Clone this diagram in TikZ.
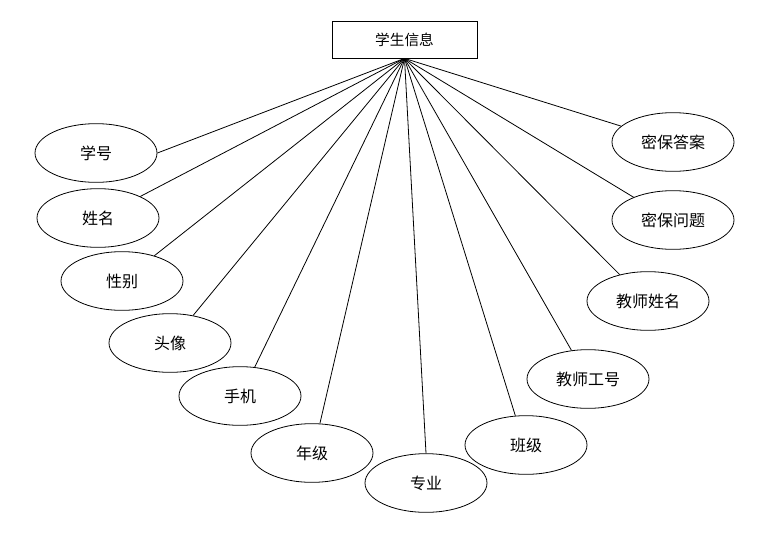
\documentclass[tikz,border=0pt]{standalone}
\usepackage{fontspec}
\setmainfont{Noto Sans CJK SC}
\usetikzlibrary{shapes.geometric}

\begin{document}
\begin{tikzpicture}[
  x=0.75pt, y=-0.75pt,
  ent/.style={draw, line width=0.6pt, minimum width=108.75pt, minimum height=27.75pt,
              inner sep=0pt, font=\fontsize{11}{13}\selectfont},
  attr/.style={draw, ellipse, line width=0.6pt, minimum width=91.5pt, minimum height=44pt,
               inner sep=0pt, font=\fontsize{12}{14}\selectfont},
  conn/.style={line width=0.6pt}
]
\useasboundingbox (0,0) rectangle (772,536);

\node[ent] (info) at (404.5,39.5) {学生信息};

% left side
\node[attr] (xh)   at (96,153)  {学号};
\node[attr] (xm)   at (98,218)  {姓名};
\node[attr] (xb)   at (122,281) {性别};
\node[attr] (tx)   at (170,343) {头像};
\node[attr] (sj)   at (240,396) {手机};
\node[attr] (nj)   at (312,453) {年级};
\node[attr] (zy)   at (426,483) {专业};
% right side
\node[attr] (bj)   at (526,445) {班级};
\node[attr] (jsgh) at (588,379) {教师工号};
\node[attr] (jsxm) at (648,301) {教师姓名};
\node[attr] (mbwt) at (673,220) {密保问题};
\node[attr] (mbda) at (673,142) {密保答案};

\draw[conn] (info.south) -- (xh.east);
\draw[conn] (info.south) -- (xm.27);
\draw[conn] (info.south) -- (xb.38);
\draw[conn] (info.south) -- (tx.50);
\draw[conn] (info.south) -- (sj.63);
\draw[conn] (info.south) -- (nj.75);
\draw[conn] (info.south) -- (zy.north);
\draw[conn] (info.south) -- (bj.110);
\draw[conn] (info.south) -- (jsgh.120);
\draw[conn] (info.south) -- (jsxm.137);
\draw[conn] (info.south) -- (mbwt.150);
\draw[conn] (info.south) -- (mbda.163);
\end{tikzpicture}
\end{document}
